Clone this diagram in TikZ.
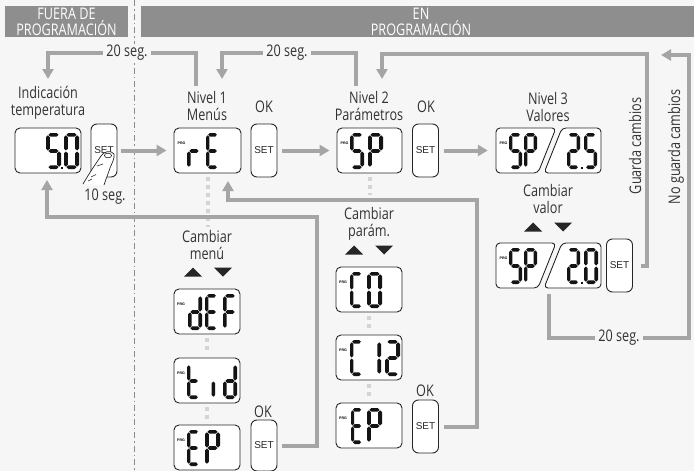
\documentclass[tikz,border=0pt]{standalone}
\usepackage{fontspec}
\setmainfont[FakeStretch=0.79]{Open Sans}
\newfontfamily\setfnt{Liberation Sans}
\usetikzlibrary{arrows.meta}
\definecolor{bg}{HTML}{F6F6F6}
\definecolor{hdrc}{HTML}{8E8E8E}
\definecolor{lnc}{HTML}{A5A5A5}
\definecolor{dotc}{HTML}{D4D4D4}
\definecolor{txtc}{HTML}{333333}
\definecolor{segc}{HTML}{141414}
\def\SEGa{\fill (2.3,1.8) -- (4.1,0) -- (9.9,0) -- (11.7,1.8) -- (9.9,3.6) -- (4.1,3.6) -- cycle;}
\def\SEGg{\fill (2.3,18) -- (4.1,16.2) -- (9.9,16.2) -- (11.7,18) -- (9.9,19.8) -- (4.1,19.8) -- cycle;}
\def\SEGd{\fill (2.3,34.2) -- (4.1,32.4) -- (9.9,32.4) -- (11.7,34.2) -- (9.9,36) -- (4.1,36) -- cycle;}
\def\SEGf{\fill (1.8,2.3) -- (3.6,4.1) -- (3.6,15.7) -- (1.8,17.5) -- (0,15.7) -- (0,4.1) -- cycle;}
\def\SEGe{\fill (1.8,18.5) -- (3.6,20.3) -- (3.6,31.9) -- (1.8,33.7) -- (0,31.9) -- (0,20.3) -- cycle;}
\def\SEGb{\fill (12.2,2.3) -- (14,4.1) -- (14,15.7) -- (12.2,17.5) -- (10.4,15.7) -- (10.4,4.1) -- cycle;}
\def\SEGc{\fill (12.2,18.5) -- (14,20.3) -- (14,31.9) -- (12.2,33.7) -- (10.4,31.9) -- (10.4,20.3) -- cycle;}
\newcommand{\mydg}[4]{\begin{scope}[shift={(#1,#2)},xscale=#3/14,fill=segc]\foreach \s in {#4}{\csname SEG\s\endcsname}\end{scope}}
\newcommand{\mydot}[2]{\fill[segc] (#1-1.4,#2-1.4) rectangle (#1+1.4,#2+1.4);}
\newcommand{\trup}[2]{\fill[black!85] (#1-9,#2+4.5) -- (#1+9,#2+4.5) -- (#1,#2-4.5) -- cycle;}
\newcommand{\trdn}[2]{\fill[black!85] (#1-9,#2-4.5) -- (#1+9,#2-4.5) -- (#1,#2+4.5) -- cycle;}
\newcommand{\splitdisp}[1]{%
  \draw[dispshape] (556,#1) -- (496,#1) -- (496,#1+45) -- (538,#1+45) -- cycle;
  \draw[dispshape] (562,#1) -- (601,#1) -- (601,#1+45) -- (544,#1+45) -- cycle;}
\begin{document}
\begin{tikzpicture}[x=1pt,y=-1pt, font=\fontsize{16}{16.5}\selectfont, text=txtc,
  disp/.style={draw=black!85, line width=0.9pt, fill=white, rounded corners=5pt, minimum width=66pt, minimum height=45pt, inner sep=0pt},
  dispshape/.style={draw=black!85, line width=0.9pt, fill=white, rounded corners=4pt},
  setbox/.style={draw=black!85, line width=0.9pt, fill=white, rounded corners=6pt, minimum width=26pt, minimum height=53pt, inner sep=0pt, font=\setfnt\fontsize{10}{10}\selectfont, text=black!85},
  lbl/.style={align=center, inner sep=0pt},
  hdr/.style={fill=hdrc, inner sep=0pt},
  hdrtxt/.style={align=center, text=white, inner sep=0pt, font=\fontsize{16}{14.5}\selectfont},
  conn/.style={draw=lnc, line width=4pt},
  arr/.style={-{Triangle[length=10pt,width=11pt]}},
  dotline/.style={draw=dotc, line width=4pt, dash pattern=on 4pt off 4pt},
  seglbl/.style={fill=bg, inner xsep=3pt, inner ysep=1pt},
  prg/.style={inner sep=0pt, font=\setfnt\bfseries\fontsize{3.6}{4}\selectfont, text=black}]
\useasboundingbox (0,0) rectangle (694,471);
\fill[bg] (0,0) rectangle (694,471);
% divider
\draw[draw=black!45, line width=1pt, dash pattern=on 6pt off 3pt on 1.5pt off 3pt] (134,0) -- (134,471);
% headers
\node[hdr, minimum width=123pt, minimum height=31pt] (hL) at (66.5,21.5) {};
\node[hdrtxt] (hLt) at (66.5,21.5) {FUERA DE\\PROGRAMACIÓN};
\node[hdr, minimum width=553pt, minimum height=31pt] (hR) at (417.5,21.5) {};
\node[hdrtxt] (hRt) at (421,21.5) {EN\\PROGRAMACIÓN};
% labels
\node[lbl] (lInd) at (48,103) {Indicación\\temperatura};
\node[lbl] (lN1) at (207,106) {Nivel 1\\Menús};
\node[lbl] (lOK1) at (264,107) {OK};
\node[lbl] (lN2) at (369,106) {Nivel 2\\Parámetros};
\node[lbl] (lOK2) at (426,107) {OK};
\node[lbl] (lN3) at (548,107) {Nivel 3\\Valores};
\node[lbl] (lCv) at (548,199) {Cambiar\\valor};
\node[lbl] (lCm) at (207,245) {Cambiar\\menú};
\node[lbl] (lCp) at (369,224) {Cambiar\\parám.};
\node[lbl] (l10) at (105,197) {10 seg.};
\node[lbl] (lOKm) at (263,412) {OK};
\node[lbl] (lOKp) at (425,391) {OK};
\node[lbl,rotate=90] (lG) at (635,146) {Guarda cambios};
\node[lbl,rotate=90] (lNG) at (676,147) {No guarda cambios};
% displays (nodes)
\node[disp] (d50) at (48,150.5) {};
\node[disp, minimum width=67pt] (dR) at (207.5,150.5) {};
\node[disp, minimum width=65pt] (dS) at (369.5,150.5) {};
\node[inner sep=0pt, minimum width=105pt, minimum height=45pt] (d3) at (548.5,150.5) {};
\node[inner sep=0pt, minimum width=105pt, minimum height=45pt] (d3b) at (548.5,265.5) {};
\node[disp] (dDEF) at (207,311.5) {};
\node[disp] (dTID) at (207,380.5) {};
\node[disp] (dEPm) at (207,447.5) {};
\node[disp] (dC0) at (369,289.5) {};
\node[disp] (dC12) at (369,357.5) {};
\node[disp] (dEPp) at (369,425.5) {};
\splitdisp{128}
\splitdisp{243}
% set boxes
\node[setbox] (set0) at (104,150.5) {SET};
\node[setbox] (set1) at (264,150.5) {SET};
\node[setbox] (set2) at (425.5,150.5) {SET};
\node[setbox] (set3) at (619.5,265.5) {SET};
\node[setbox, minimum height=51pt] (setm) at (264,445.5) {SET};
\node[setbox] (setp) at (425.5,426.5) {SET};
% finger
\fill[white] (83,184) .. controls (90,172) and (97,162) .. (101,156) .. controls (104,151) and (111,150) .. (114,154) .. controls (115,158) and (112,163) .. (110,168) .. controls (108,174) and (106,179) .. (104,185) -- cycle;
\draw[black!85, line width=0.7pt] (83,184) .. controls (90,172) and (97,162) .. (101,156) .. controls (104,151) and (111,150) .. (114,154) .. controls (115,158) and (112,163) .. (110,168) .. controls (108,174) and (106,179) .. (104,185);
\draw[black!85, line width=0.6pt] (108,155.5) ellipse (3.6 and 2.3);
\draw[black!85, line width=0.6pt] (97,166) -- (103,164);
\draw[black!85, line width=0.6pt] (91,177) -- (96,174.5);
\draw[black!85, line width=0.6pt] (88,181) -- (92,179);
% dotted guides
\draw[dotline, shorten <=4pt, shorten >=3pt] (dR.south) -- (dR.south |- lCm.north);
\draw[dotline, shorten <=4pt, shorten >=4pt] (dDEF.south) -- (dTID.north);
\draw[dotline, shorten <=4pt, shorten >=4pt] (dTID.south) -- (dEPm.north);
\coordinate (kB) at (477,200);
\draw[dotline, shorten <=4pt, shorten >=5pt] (dS.south) -- (dS.south |- kB);
\draw[dotline, shorten <=4pt, shorten >=4pt] (dC0.south) -- (dC12.north);
\draw[dotline, shorten <=4pt, shorten >=4pt] (dC12.south) -- (dEPp.north);
% main row arrows
\draw[conn,arr] ([xshift=4pt]set0.east) -- ([xshift=-7pt]dR.west);
\draw[conn,arr] ([xshift=5pt]set1.east) -- ([xshift=-7pt]dS.west);
\draw[conn,arr] ([xshift=5pt]set2.east) -- ([xshift=-8pt]d3.west);
% loops
\coordinate (s1) at (127,53);
\coordinate (s2) at (287,53);
\coordinate (s3) at (619,338);
\coordinate (a1) at (196,86); \coordinate (a1e) at (48,79);
\coordinate (a2) at (356,86); \coordinate (a2e) at (222,79);
\coordinate (k3) at (647,54); \coordinate (a3e) at (382,79);
\coordinate (k4) at (689,55); \coordinate (a4e) at (661,55);
\coordinate (kA) at (317,217); \coordinate (aE) at (47,180);
\coordinate (bE) at (228,181);
\draw[conn,arr] (a1) |- (s1) -| (a1e);
\draw[conn,arr] (a2) |- (s2) -| (a2e);
\draw[conn,arr] ([xshift=8pt]set3.east) -| (k3) -| (a3e);
\draw[conn,arr] ([yshift=-6pt]d3b.south) |- (s3) -| (k4) -- (a4e);
\draw[conn,arr] ([xshift=5pt]setp.east) -| (kB) -| (bE);
\draw[conn,arr] ([xshift=5pt]setm.east) -| (kA) -| (aE);
\node[seglbl] (t1) at (s1) {20 seg.};
\node[seglbl] (t2) at (s2) {20 seg.};
\node[seglbl] (t3) at (s3) {20 seg.};
% digits
\mydg{46}{133}{15}{a,f,g,c,d} \mydot{62}{168} \mydg{64}{133}{15}{a,b,c,d,e,f}
\mydg{187}{133}{14}{e,g} \mydg{206}{133}{13}{a,d,e,f,g}
\mydg{350}{133}{14}{a,f,g,c,d} \mydg{368}{133}{15}{a,b,e,f,g}
\mydg{509}{133}{13}{a,f,g,c,d} \mydg{524}{133}{13}{a,b,e,f,g} \mydg{567}{133}{13}{a,b,g,e,d} \mydot{582}{168} \mydg{584}{133}{13}{a,f,g,c,d}
\mydg{509}{248}{13}{a,f,g,c,d} \mydg{524}{248}{13}{a,b,e,f,g} \mydg{567}{248}{13}{a,b,g,e,d} \mydot{582}{283} \mydg{584}{248}{14}{a,b,c,d,e,f}
\mydg{188}{294}{14}{b,c,d,e,g} \mydg{205}{294}{13}{a,d,e,f,g} \mydg{223}{294}{14}{a,e,f,g}
\mydg{187}{363}{13}{d,e,f,g} \mydg{211.5}{363}{14}{e} \mydg{223}{363}{14}{b,c,d,e,g}
\mydg{187}{430}{13}{a,d,e,f,g} \mydg{205}{430}{15}{a,b,e,f,g}
\mydg{350}{272}{13}{a,d,e,f} \mydg{367}{272}{15}{a,b,c,d,e,f}
\mydg{350}{340}{13}{a,d,e,f} \mydg{367}{340}{14}{b,c} \mydg{385}{340}{15}{a,b,g,e,d}
\mydg{351}{408}{12}{a,d,e,f,g} \mydg{367}{408}{15}{a,b,e,f,g}
% PRG tags
\node[prg] (p1) at (181.5,143) {PRG};
\node[prg] (p2) at (344.5,143) {PRG};
\node[prg] (p3) at (503.5,143) {PRG};
\node[prg] (p4) at (503.5,258) {PRG};
\node[prg] (p5) at (181,304) {PRG};
\node[prg] (p6) at (181,373) {PRG};
\node[prg] (p7) at (181,440) {PRG};
\node[prg] (p8) at (343,282) {PRG};
\node[prg] (p9) at (343,350) {PRG};
\node[prg] (p10) at (343,418) {PRG};
% up/down keys
\trup{193}{272} \trdn{223}{272}
\trup{354}{250} \trdn{384}{250}
\trup{533}{227} \trdn{563}{227}
\end{tikzpicture}
\end{document}
